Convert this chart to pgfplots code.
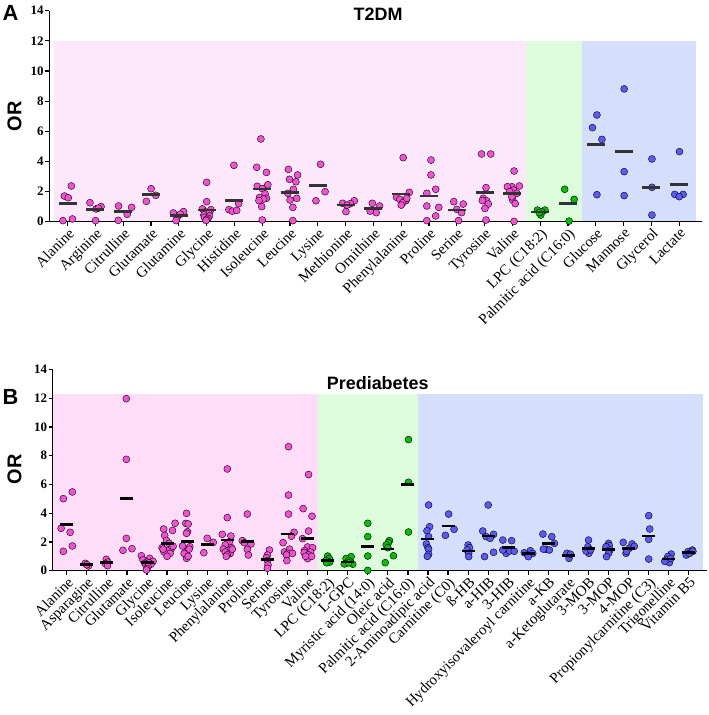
\documentclass[border=0pt]{standalone}
\usepackage{pgfplots}
\pgfplotsset{compat=1.18}
\usepackage{fontspec}
\setmainfont{Liberation Serif}
\newfontfamily\hsans{Liberation Sans}
\definecolor{ppt}{HTML}{F550D5}
\definecolor{gpt}{HTML}{00BE00}
\definecolor{bpt}{HTML}{5A5AFA}
\definecolor{pbgA}{HTML}{FDE7FB}
\definecolor{pbgB}{HTML}{FFDDF9}
\definecolor{gbg}{HTML}{DDFCDC}
\definecolor{bbg}{HTML}{D5DFFC}
\definecolor{barA}{HTML}{333333}
\pgfplotsset{
  common/.style={
    scale only axis, ymin=0, ymax=14,
    axis x line*=bottom, axis y line*=left,
    axis line style={line width=1.4bp,-},
    ytick={0,2,...,14},
    tick style={line width=1.2bp, black},
    major tick length=4bp, tick align=outside,
    /pgf/number format/assume math mode=true,
    yticklabel style={font=\bfseries\fontsize{13}{13}\selectfont, inner sep=1.5bp},
    xticklabel style={rotate=45, anchor=north east, font=\fontsize{15}{15}\selectfont, inner sep=1bp},
    clip=false, axis on top,
    ylabel={OR},
    ylabel style={font=\hsans\bfseries\fontsize{20}{20}\selectfont, anchor=center},
  },
  pts/.style={only marks, mark=*, mark size=3.5bp, mark options={draw=none, fill=#1}},
}
\begin{document}
\begin{tikzpicture}[x=1bp,y=1bp]
\useasboundingbox (0,0) rectangle (709,715);
% ---------------- Panel A ----------------
\begin{axis}[common, at={(49.3bp,493.3bp)}, anchor=south west,
  width=652.4bp, height=211bp, xmin=-0.662, xmax=22.81,
  xtick={0,...,22},
  xticklabels={Alanine,Arginine,Citrulline,Glutamate,Glutamine,Glycine,Histidine,Isoleucine,Leucine,Lysine,Methionine,Ornithine,Phenylalanine,Proline,Serine,Tyrosine,Valine,{LPC (C18:2)},{Palmitic acid (C16:0)},Glucose,Mannose,Glycerol,Lactate},
  ylabel style={at={(axis description cs:-0.0533,0.50)}},
]
\addplot[fill=pbgA, draw=none] coordinates {(-0.5,12) (16.5,12)} \closedcycle;
\addplot[fill=gbg, draw=none] coordinates {(16.5,12) (18.5,12)} \closedcycle;
\addplot[fill=bbg, draw=none] coordinates {(18.5,12) (22.6,12)} \closedcycle;
\addplot[pts=ppt] coordinates {
(-0.12,1.70) (0.02,1.59) (0.13,2.37) (-0.17,0.07) (0.17,0.18)
(0.8,1.26) (1.02,0.85) (1.2,1.0) (1.1,0.9) (1.0,0.07)
(1.83,1.04) (2.14,0.49) (2.3,0.95) (1.82,0.09)
(3.0,2.19) (3.17,1.75) (2.83,1.35)
(3.8,0.58) (3.94,0.29) (4.17,0.67) (4.05,0.5) (3.9,0.07)
(5.0,2.61) (5.0,1.33) (4.85,0.85) (5.15,0.8) (4.95,0.65) (5.08,0.56) (4.9,0.45) (5.1,0.38) (4.92,0.29) (5.05,0.22) (5.0,0.15) (4.98,0.08)
(5.98,3.74) (5.8,0.8) (5.92,0.7) (6.08,0.75) (6.15,1.2)
(6.95,5.49) (6.8,3.61) (7.15,3.27) (7.2,2.45) (6.82,2.35) (7.0,2.2) (7.1,1.85) (6.9,1.6) (7.15,1.55) (7.05,1.5) (6.88,1.4) (6.98,1.0) (7.0,0.11)
(7.94,3.47) (8.27,3.10) (7.98,2.81) (8.21,2.65) (8.12,2.15) (7.92,1.88) (8.24,1.55) (8.0,1.44) (8.1,0.95) (8.1,0.07)
(9.1,3.81) (9.26,1.99) (8.93,1.39)
(9.89,1.22) (10.31,1.39) (10.17,1.2) (10.01,0.67) (10.05,1.1)
(10.96,1.22) (11.22,1.04) (11.1,0.6) (10.88,0.7)
(12.07,4.25) (12.29,1.95) (11.83,1.62) (11.95,1.49) (12.17,1.4) (12.05,1.26) (12.0,1.1) (12.2,1.55)
(13.07,4.09) (13.07,3.10) (13.24,2.15) (12.92,1.88) (12.92,1.04) (13.35,0.95) (13.24,0.38) (12.92,0.07)
(13.89,1.33) (14.23,1.17) (14.0,0.82) (14.17,0.6) (14.06,0.07)
(14.89,4.49) (15.22,4.49) (15.05,2.26) (14.95,1.55) (15.07,1.39) (15.13,1.17) (15.01,0.88) (15.05,0.11) (14.92,1.4)
(16.06,3.36) (15.98,2.32) (16.25,2.37) (15.82,2.32) (16.04,2.1) (15.9,2.0) (16.16,1.88) (16.01,1.44) (15.98,1.65) (16.06,0.02) (16.1,1.2)
};
\addplot[pts=gpt] coordinates {
(16.9,0.77) (17.17,0.77) (17.02,0.44) (17.05,0.66) (16.96,0.6)
(17.88,2.15) (18.22,1.48) (18.04,0.04)
};
\addplot[pts=bpt] coordinates {
(19.04,7.08) (18.88,6.24) (19.22,5.46) (19.04,1.79)
(20.02,8.81) (20.02,3.32) (20.02,1.73)
(21.02,4.16) (21.02,2.28) (21.02,0.44)
(22.01,4.65) (21.84,1.81) (22.14,1.81) (22.0,1.66)
};
\addplot[only marks, mark=-, mark size=9bp, mark options={line width=2.6bp, draw=barA}] coordinates {
(0,1.20) (1,0.82) (2,0.67) (3,1.79) (4,0.42) (5,0.78) (6,1.39) (7,2.17) (8,1.92) (9,2.39) (10,1.11) (11,0.89) (12,1.83) (13,1.70) (14,0.78) (15,1.95) (16,1.86)
(17,0.64) (18,1.22) (19,5.13) (20,4.65) (21,2.28) (22,2.48)
};
\node[font=\hsans\bfseries\fontsize{18}{18}\selectfont] at (rel axis cs:0.504,0.984) {T2DM};
\node[font=\hsans\bfseries\fontsize{22}{22}\selectfont] at (rel axis cs:-0.0595,0.991) {A};
\end{axis}
% ---------------- Panel B ----------------
\begin{axis}[common, at={(52.7bp,144.3bp)}, anchor=south west,
  width=654bp, height=201.2bp, xmin=-0.70, xmax=31.89,
  xtick={0,...,31},
  xticklabels={Alanine,Asparagine,Citrulline,Glutamate,Glycine,Isoleucine,Leucine,Lysine,Phenylalanine,Proline,Serine,Tyrosine,Valine,{LPC (C18:2)},L-GPC,{Myristic acid (14:0)},Oleic acid,{Palmitic acid (C16:0)},2-Aminoadipic acid,{Carnitine (C0)},ß-HB,a-HIB,3-HIB,Hydroxyisovaleroyl carnitine,a-KB,a-Ketoglutarate,3-MOB,3-MOP,4-MOP,{Propionylcarnitine (C3)},Trigonelline,Vitamin B5},
  ylabel style={at={(axis description cs:-0.0584,0.505)}},
]
\addplot[fill=pbgB, draw=none] coordinates {(-0.70,12.3) (12.5,12.3)} \closedcycle;
\addplot[fill=gbg, draw=none] coordinates {(12.5,12.3) (17.5,12.3)} \closedcycle;
\addplot[fill=bbg, draw=none] coordinates {(17.5,12.3) (31.69,12.3)} \closedcycle;
\addplot[pts=ppt] coordinates {
(-0.17,5.01) (0.28,5.48) (-0.28,2.95) (0.17,2.67) (-0.17,1.35) (0.28,1.72)
(0.92,0.51) (1.08,0.33) (1.0,0.42)
(1.97,0.79) (2.05,0.6) (1.92,0.5) (2.03,0.35)
(2.97,11.97) (2.97,7.75) (2.97,2.25) (2.8,1.42) (3.25,1.53)
(3.72,1.04) (4.13,0.86) (3.8,0.75) (4.3,0.65) (4.0,0.6) (4.1,0.55) (3.9,0.5) (4.2,0.45) (3.95,0.4) (4.05,0.28) (4.0,0.15) (3.97,0.05)
(4.83,2.9) (5.4,3.3) (5.27,2.8) (4.88,2.45) (4.97,2.1) (5.1,1.9) (4.75,1.6) (5.2,1.5) (5.0,1.4) (4.85,1.3) (5.15,1.2) (5.0,1.0) (5.3,1.7) (4.8,1.5)
(5.97,3.99) (5.93,3.29) (6.05,3.25) (6.02,2.71) (5.97,2.6) (5.77,1.72) (6.13,1.67) (5.97,1.32) (5.97,0.86) (6.1,1.5) (5.85,1.2) (6.05,1.0)
(7.0,2.25) (7.3,1.97) (6.83,1.25)
(8.0,7.08) (8.0,3.69) (7.75,2.53) (8.18,2.41) (8.1,2.0) (7.9,1.8) (8.2,1.6) (7.8,1.5) (8.05,1.4) (7.9,1.3) (8.15,1.2) (8.0,1.1) (7.95,1.0) (8.25,1.5)
(9.0,3.94) (8.75,2.09) (9.18,1.86) (9.0,1.49) (9.05,1.09) (8.85,1.95)
(10.1,1.44) (10.0,1.09) (9.95,0.9) (10.0,0.7) (10.03,0.4) (10.0,0.17)
(11.05,8.63) (11.05,5.26) (11.05,3.94) (11.33,2.67) (11.2,2.4) (10.78,1.95) (11.1,1.5) (10.85,1.3) (11.0,1.2) (11.25,1.2) (10.95,1.1) (10.97,0.7)
(12.05,6.69) (11.78,4.32) (12.22,3.79) (12.05,2.76) (11.75,2.23) (12.0,1.65) (12.25,1.6) (11.85,1.4) (12.15,1.3) (11.83,1.26) (12.05,1.1) (12.0,0.84) (12.2,1.0) (11.9,1.0)
};
\addplot[pts=gpt] coordinates {
(13.0,1.02) (13.08,0.85) (12.92,0.7) (13.1,0.6) (12.95,0.55)
(14.17,0.98) (13.92,0.85) (14.05,0.7) (14.15,0.6) (13.9,0.5) (13.83,0.47) (14.25,0.45) (14.05,0.55)
(15.0,3.3) (15.0,2.37) (15.0,1.02) (15.0,0.02)
(16.08,2.09) (16.03,1.95) (15.92,1.79) (16.0,1.6) (16.28,1.04) (15.87,0.56)
(17.03,9.12) (17.03,6.15) (17.03,2.69)
};
\addplot[pts=bpt] coordinates {
(18.03,4.57) (18.08,3.06) (17.95,2.78) (18.03,2.37) (17.92,1.86) (18.0,1.6) (18.03,1.49) (18.03,1.14) (17.97,1.0)
(19.03,3.94) (18.87,2.46) (19.3,2.88)
(20.0,1.79) (20.07,1.6) (19.95,1.45) (20.03,1.21) (20.03,0.98)
(21.0,4.57) (20.73,2.76) (21.27,2.53) (20.9,2.37) (21.1,2.25) (21.27,1.28) (20.82,0.98)
(21.73,2.13) (22.17,2.09) (21.9,1.21) (22.07,1.37) (21.73,1.44) (22.3,1.35)
(23.1,1.39) (22.8,1.25) (22.97,1.09) (23.22,1.2) (23.0,0.98)
(23.73,2.55) (24.17,2.37) (24.3,1.9) (23.88,1.49) (24.05,1.44) (23.75,1.5)
(24.92,1.21) (25.03,0.86) (25.1,1.15)
(26.0,2.13) (25.97,1.67) (26.02,1.21) (25.88,1.37) (26.1,1.45)
(27.0,1.9) (27.03,1.75) (26.87,1.67) (27.07,1.44) (27.0,1.21) (26.9,0.98)
(27.73,1.97) (28.17,1.86) (28.03,1.56) (27.87,1.21) (27.9,1.35) (28.28,1.7)
(29.0,3.83) (29.05,2.9) (29.0,2.18) (29.0,0.81)
(30.12,1.16) (29.95,0.98) (29.87,0.74) (30.03,0.56) (30.1,0.85) (29.8,0.65)
(31.17,1.44) (30.95,1.32) (30.87,1.09) (31.03,1.2) (31.2,1.35)
};
\addplot[only marks, mark=-, mark size=6.5bp, mark options={line width=2.6bp, draw=black}] coordinates {
(0,3.20) (1,0.42) (2,0.56) (3,5.01) (4,0.56) (5,1.88) (6,2.02) (7,1.84) (8,2.13) (9,2.02) (10,0.76) (11,2.55) (12,2.23)
(13,0.70) (14,0.60) (15,1.67) (16,1.51) (17,5.99)
(18,2.21) (19,3.11) (20,1.37) (21,2.41) (22,1.60) (23,1.18) (24,1.88) (25,1.07) (26,1.56) (27,1.49) (28,1.56) (29,2.41) (30,0.81) (31,1.28)
};
\node[font=\hsans\bfseries\fontsize{18}{18}\selectfont] at (rel axis cs:0.497,0.933) {Prediabetes};
\node[font=\hsans\bfseries\fontsize{22}{22}\selectfont] at (rel axis cs:-0.0645,0.863) {B};
\end{axis}
\end{tikzpicture}
\end{document}
